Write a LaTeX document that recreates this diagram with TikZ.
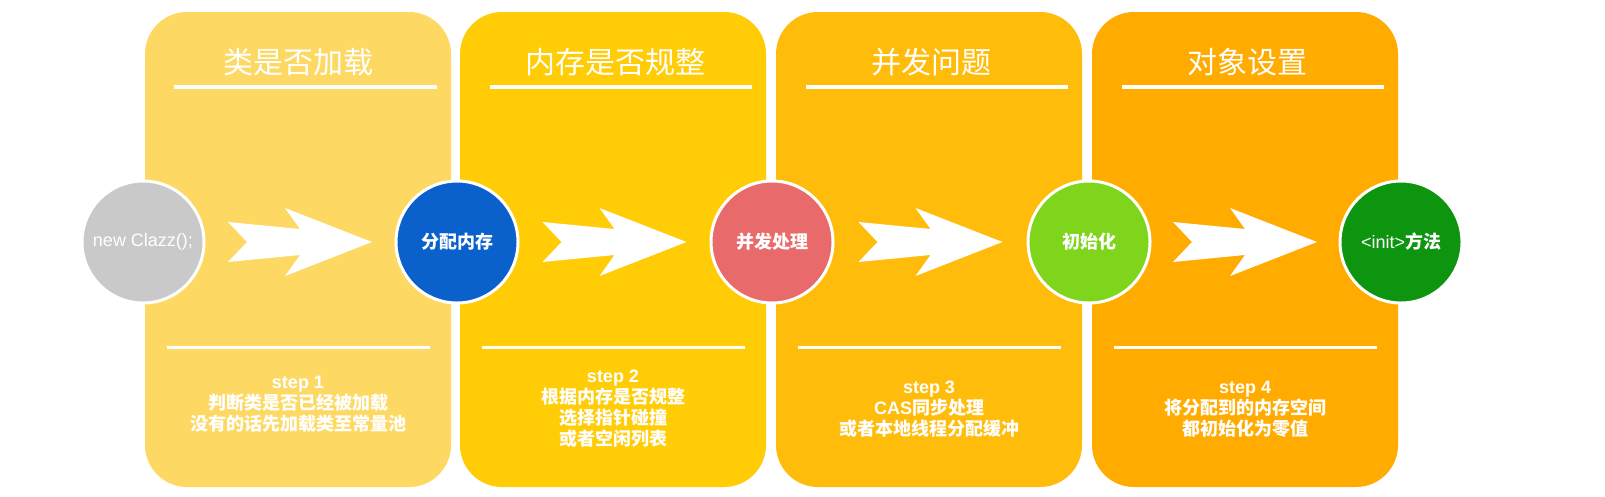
\documentclass[tikz,border=0pt]{standalone}
\usepackage{fontspec}
\setmainfont{Liberation Sans}
\newfontfamily\cjk{Noto Sans CJK SC}
\usetikzlibrary{calc}
\definecolor{pone}{HTML}{FDD963}
\definecolor{ptwo}{HTML}{FFCC05}
\definecolor{pthree}{HTML}{FFBC0A}
\definecolor{pfour}{HTML}{FFAB00}
\definecolor{cgray}{HTML}{C9C9C9}
\definecolor{cblue}{HTML}{0B61CB}
\definecolor{cred}{HTML}{E96A6A}
\definecolor{clime}{HTML}{7FD51B}
\definecolor{cgreen}{HTML}{0E9510}
\begin{document}
\begin{tikzpicture}[x=1pt,y=-1pt,
  panel/.style={rectangle, fill=#1, draw=none, rounded corners=42pt,
    minimum width=306pt, minimum height=475pt, inner sep=0pt},
  disc/.style={circle, fill=#1, draw=white, line width=3pt,
    minimum size=122pt, inner sep=0pt, text=white,
    font=\fontsize{18}{20}\selectfont},
  title/.style={text=white, inner sep=0pt, font=\cjk\fontsize{30}{32}\selectfont},
  rulel/.style={draw=white, line width=4pt},
  ruleb/.style={draw=white, line width=3pt},
  desc/.style={text=white, align=center, inner sep=0pt,
    font=\cjk\bfseries\fontsize{18}{21}\selectfont},
  fwd/.pic={\fill[white] (-72,-20) -- (0,-13) -- (-15,-34) -- (72,0)
     -- (-15,34) -- (0,13) -- (-72,20) -- (-53,0) -- cycle;}
]
\useasboundingbox (0,0) rectangle (1605,496);
\fill[white] (0,0) rectangle (1605,496);

% panels
\node[panel=pone]   (p1) at (298,249.5) {};
\node[panel=ptwo]   (p2) at (613,249.5) {};
\node[panel=pthree] (p3) at (929,249.5) {};
\node[panel=pfour]  (p4) at (1245,249.5) {};

% titles
\node[title] (t1) at (298,62) {类是否加载};
\node[title] (t2) at (615,62) {内存是否规整};
\node[title] (t3) at (931,62) {并发问题};
\node[title] (t4) at (1247,62) {对象设置};

% top rules
\draw[rulel] (174,87) -- (437,87);
\draw[rulel] (490,87) -- (752,87);
\draw[rulel] (806,87) -- (1068,87);
\draw[rulel] (1122,87) -- (1384,87);

% bottom rules
\draw[ruleb] (167,347) -- (430,347);
\draw[ruleb] (482,347) -- (745,347);
\draw[ruleb] (798,347) -- (1061,347);
\draw[ruleb] (1114,347) -- (1377,347);

% descriptions
\node[desc] (d1) at (298,404) {{\rmfamily step 1}\\判断类是否已经被加载\\没有的话先加载类至常量池};
\node[desc] (d2) at (613,409) {{\rmfamily step 2}\\根据内存是否规整\\选择指针碰撞\\或者空闲列表};
\node[desc] (d3) at (929,409) {{\rmfamily step 3}\\{\rmfamily CAS}同步处理\\或者本地线程分配缓冲};
\node[desc] (d4) at (1245,409) {{\rmfamily step 4}\\将分配到的内存空间\\都初始化为零值};

% circles
\node[disc=cgray]  (c0) at (143,242) {new Clazz();};
\node[disc=cblue]  (c1) at (457,242) {\cjk\bfseries 分配内存};
\node[disc=cred]   (c2) at (772,242) {\cjk\bfseries 并发处理};
\node[disc=clime]  (c3) at (1089,242) {\cjk\bfseries 初始化};
\node[disc=cgreen] (c4) at (1401,242) {\textless init\textgreater{\cjk\bfseries 方法}};

% chevron arrows between circles
\pic at ($(c0)!0.5!(c1)$) {fwd};
\pic at ($(c1)!0.5!(c2)$) {fwd};
\pic at ($(c2)!0.5!(c3)$) {fwd};
\pic at ($(c3)!0.5!(c4)$) {fwd};
\end{tikzpicture}
\end{document}
